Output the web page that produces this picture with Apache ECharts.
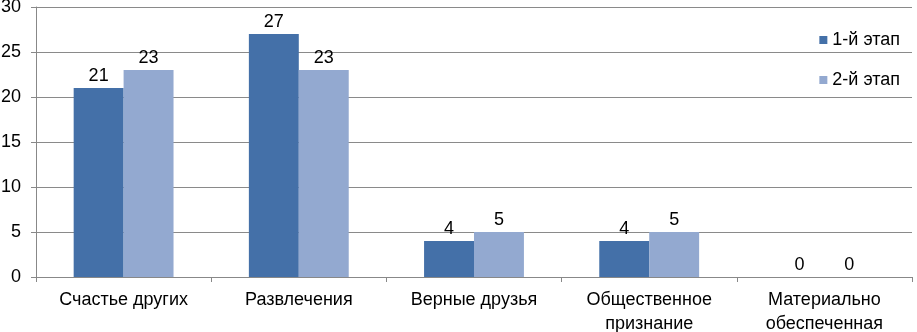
<!DOCTYPE html>
<html><head><meta charset="utf-8">
<script src="https://cdn.jsdelivr.net/npm/echarts@6/dist/echarts.min.js"></script>
<style>html,body{margin:0;padding:0;background:#fff}#c{width:917px;height:332px}</style>
</head><body><div id="c"></div>
<script>
const categories = ['Счастье других', 'Развлечения', 'Верные друзья', 'Общественное\nпризнание', 'Материально\nобеспеченная'];
const stage1 = [21, 27, 4, 4, 0];
const stage2 = [23, 23, 5, 5, 0];
const seriesNames = ['1-й этап', '2-й этап'];
const chart = echarts.init(document.getElementById('c'), null, {renderer: 'canvas'});
const font = 'Liberation Sans, Arial, sans-serif';
const lbl = {show: true, position: 'top', color: '#000', fontSize: 18, fontFamily: font, distance: 3};
chart.setOption({
  animation: false,
  textStyle: {fontFamily: font},
  legend: {
    orient: 'vertical', right: 12, top: 26, itemGap: 22, itemWidth: 8, itemHeight: 8,
    icon: 'rect', textStyle: {fontSize: 18, color: '#000', fontFamily: font},
    data: seriesNames
  },
  grid: {left: 36, right: 5, top: 7, bottom: 55, containLabel: false, outerBoundsMode: 'none'},
  xAxis: {
    type: 'category', data: categories,
    axisLine: {lineStyle: {color: '#888', width: 1}},
    axisTick: {show: true, length: 5, lineStyle: {color: '#888'}},
    axisLabel: {color: '#000', fontSize: 18, fontFamily: font, margin: 11, lineHeight: 24, interval: 0}
  },
  yAxis: {
    type: 'value', min: 0, max: 30, interval: 5,
    axisLine: {show: true, lineStyle: {color: '#888'}},
    axisTick: {show: true, length: 5, lineStyle: {color: '#888'}},
    splitLine: {show: true, lineStyle: {color: '#8a8a8a', width: 1}},
    axisLabel: {color: '#000', fontSize: 18, fontFamily: font, margin: 15}
  },
  series: [
    {name: seriesNames[0], type: 'bar', data: stage1, itemStyle: {color: '#4470a8'}, barGap: '0%', barCategoryGap: '43%', label: lbl},
    {name: seriesNames[1], type: 'bar', data: stage2, itemStyle: {color: '#93a9d0'}, label: lbl}
  ]
});
</script></body></html>
